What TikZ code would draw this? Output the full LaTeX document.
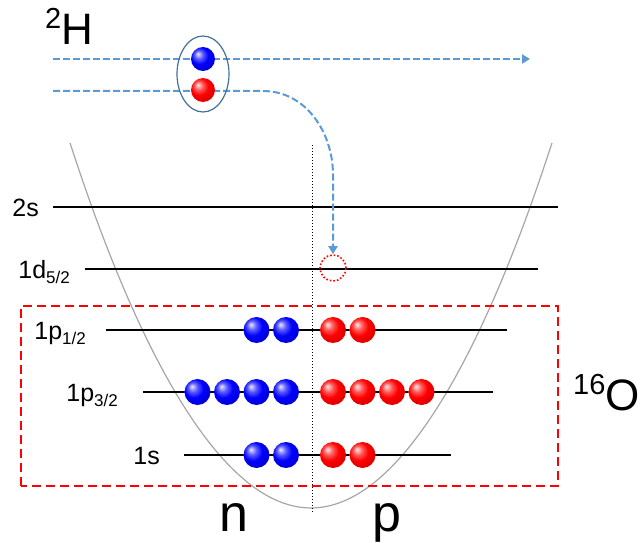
\documentclass[tikz,border=0pt]{standalone}
\usepackage{fontspec}
\setmainfont{Liberation Sans}
\usetikzlibrary{arrows.meta,shapes,positioning}

\definecolor{beamblue}{HTML}{5B9BD5}
\definecolor{shellblue}{HTML}{41719C}
\newcommand{\lsub}[1]{\raisebox{-5pt}{\fontsize{17}{17}\selectfont #1}}
\newcommand{\lsup}[1]{\raisebox{16pt}{\fontsize{29}{29}\selectfont #1}}
\pgfdeclareradialshading{nball}{\pgfpoint{-11bp}{11bp}}{color(0bp)=(blue!8!white); color(9bp)=(blue!65!white); color(18bp)=(blue); color(26bp)=(blue!88!black); color(50bp)=(blue!80!black)}
\pgfdeclareradialshading{pball}{\pgfpoint{-11bp}{11bp}}{color(0bp)=(red!8!white); color(9bp)=(red!65!white); color(18bp)=(red); color(26bp)=(red!90!black); color(50bp)=(red!80!black)}

\begin{document}
\begin{tikzpicture}[x=1pt, y=1pt, >=Stealth,
    level/.style={line width=2.4pt},
    lab/.style={anchor=base east, inner sep=0pt, font=\fontsize{25}{25}\selectfont},
    beam/.style={beamblue, line width=2pt, dash pattern=on 7pt off 3pt},
    neutron/.style={circle, inner sep=0pt, minimum size=26pt, shade, shading=nball},
    proton/.style={circle, inner sep=0pt, minimum size=26pt, shade, shading=pball},
    big/.style={anchor=base west, inner sep=0pt, font=\fontsize{44}{44}\selectfont}]
  \useasboundingbox (0,0) rectangle (643,542);

  % Potential well
  \draw[gray!70, line width=1.2pt] (70,399) parabola bend (311,34) (552,399);
  \draw[dotted, line width=1pt] (312,397) -- (312,30);

  % Shells
  \draw[level] (53,335) node[lab, xshift=-13pt, yshift=-9pt] (l2s) {2s} -- (558,335);
  \draw[level] (85,273) node[lab, xshift=-14pt, yshift=-9pt] (l1d) {1d\lsub{5/2}} -- (538,273);
  \draw[level] (106,212) node[lab, xshift=-19pt, yshift=-9pt] (l1pa) {1p\lsub{1/2}} -- (507,212);
  \draw[level] (143,150) node[lab, xshift=-24pt, yshift=-9pt] (l1pb) {1p\lsub{3/2}} -- (493,150);
  \draw[level] (184,87) node[lab, xshift=-23pt, yshift=-9pt] (l1s) {1s} -- (451,87);

  % Filled core
  \foreach \yy/\nb/\sh in {212/2/pa, 150/4/pb, 87/2/s} {
    \foreach \k in {1,...,\nb} {
      \node[neutron] (n\sh\k) at ({286-29.5*(\k-1)}, \yy) {};
      \node[proton] (p\sh\k) at ({333+29.5*(\k-1)}, \yy) {};
    }
  }
  \draw[red, line width=2.2pt, dash pattern=on 9pt off 5pt] (21,56) rectangle (558,236);

  % Empty state
  \node[circle, draw=red, dotted, line width=1.6pt, minimum size=26pt, inner sep=0pt] (hole) at (333,274) {};

  % Incoming deuteron
  \coordinate (b1s) at (53,483);
  \coordinate (b1e) at (530,483);
  \coordinate (b2s) at (53,451);
  \draw[beam, -{Triangle[length=8pt, width=9pt]}] (b1s) -- (b1e);
  \draw[beam, -{Triangle[length=8pt, width=9pt]}] (b2s) -- (263,451) to[out=0, in=90] (333,367) -- (hole.north);
  \node[neutron, minimum size=24pt] (dn) at (203,483) {};
  \node[proton, minimum size=24pt] (dp) at (203,452) {};
  \node[ellipse, draw=shellblue, line width=1.2pt, minimum width=52pt, minimum height=76pt, inner sep=0pt] (deut) at (203,468) {};

  % Labels
  \node[big] (H2) at (45,497) {\lsup{2}H};
  \node[big] (O16) at (573,132) {\lsup{16}O};
  \node[big, font=\fontsize{52}{52}\selectfont] (nlab) at (219.6,11) {n};
  \node[big, font=\fontsize{52}{52}\selectfont] (plab) at (372.6,11) {p};
\end{tikzpicture}
\end{document}
